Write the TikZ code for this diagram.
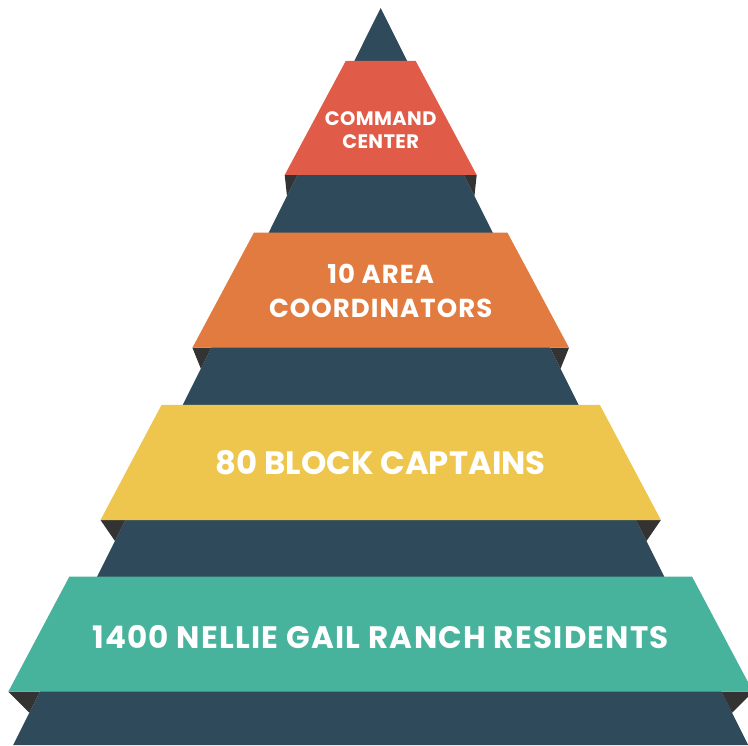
\documentclass[tikz,border=0pt]{standalone}
\usepackage{fontspec}
\setmainfont{Poppins}
\definecolor{slate}{HTML}{2F4B5B}
\definecolor{foldgray}{HTML}{333333}
\definecolor{tierred}{HTML}{E05B48}
\definecolor{tierorange}{HTML}{E27B3F}
\definecolor{tieryellow}{HTML}{EEC64D}
\definecolor{tierteal}{HTML}{47B39C}
\tikzset{
  tierlabel/.style={text=white, align=center, inner sep=0pt},
}
% centre line and slope of the pyramid sides, apex at y=8
\def\cx{380.7}
\def\ps{0.4986}
% one tier: top y, top half width, bottom y, bottom half width, colour, name
\newcommand{\tierband}[6]{%
  \pgfmathsetmacro{\edgeA}{\cx-\ps*(#3-8)}%
  \pgfmathsetmacro{\edgeB}{\cx-\ps*(#3+21-8)}%
  \pgfmathsetmacro{\edgeC}{\cx+\ps*(#3-8)}%
  \pgfmathsetmacro{\edgeD}{\cx+\ps*(#3+21-8)}%
  \fill[foldgray] (\cx-#4,#3) -- (\edgeA,#3) -- (\edgeB,#3+21) -- cycle;
  \fill[foldgray] (\cx+#4,#3) -- (\edgeC,#3) -- (\edgeD,#3+21) -- cycle;
  \fill[#5] (\cx-#2,#1) coordinate (#6-tl) -- (\cx+#2,#1) coordinate (#6-tr)
    -- (\cx+#4,#3) coordinate (#6-br) -- (\cx-#4,#3) coordinate (#6-bl) -- cycle;
}
\begin{document}
\begin{tikzpicture}[x=1pt,y=-1pt]
\useasboundingbox (0,0) rectangle (748,746);
\begin{scope}
\clip (0,0) rectangle (748,746);
% dark pyramid body
\fill[slate] (\cx,8) coordinate (apex) -- (\cx+367.5,745) coordinate (baseR)
  -- (\cx-367.5,745) coordinate (baseL) -- cycle;
% coloured tiers
\tierband{61}{35}{175}{96}{tierred}{t1}
\tierband{232.7}{126.8}{347.7}{188.3}{tierorange}{t2}
\tierband{405}{219.2}{520}{280.2}{tieryellow}{t3}
\tierband{576.7}{311.4}{691.7}{372.4}{tierteal}{t4}
\end{scope}
% tier labels
\node[tierlabel, font=\bfseries\fontsize{19.5}{23.3}\selectfont\addfontfeatures{LetterSpace=2}] (cmd) at (\cx,130) {COMMAND\\CENTER};
\node[tierlabel, font=\bfseries\fontsize{26}{34.4}\selectfont\addfontfeatures{LetterSpace=4}] (area) at (\cx,291) {10 AREA\\COORDINATORS};
\node[tierlabel, font=\bfseries\fontsize{32.3}{37}\selectfont] (block) at (\cx,463) {80 BLOCK CAPTAINS};
\node[tierlabel, font=\bfseries\fontsize{31}{36}\selectfont\addfontfeatures{LetterSpace=4}] (res) at (\cx,637) {1400 NELLIE GAIL RANCH RESIDENTS};
\end{tikzpicture}
\end{document}
